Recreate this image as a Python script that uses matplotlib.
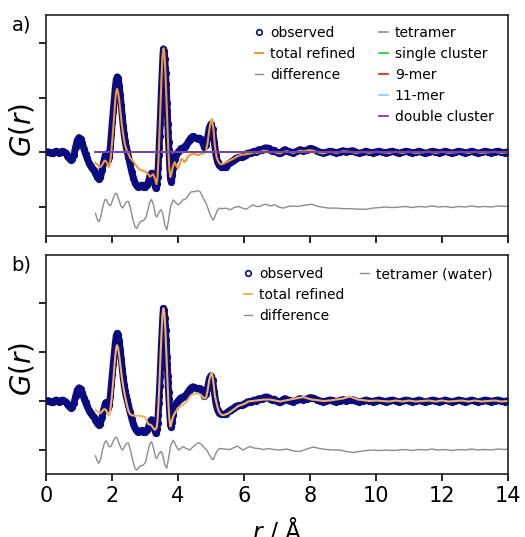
import numpy as np
import matplotlib
matplotlib.use("Agg")
import matplotlib.pyplot as plt
from matplotlib.lines import Line2D

# observed G(r), (r, G); same data in both panels
observed = [
    (0.00, 0.00), (0.05, 0.01), (0.10, 0.00), (0.15, -0.01), (0.20, -0.02),
    (0.25, 0.00), (0.30, 0.02), (0.35, 0.01), (0.40, -0.01), (0.45, 0.00),
    (0.50, 0.02), (0.55, 0.01), (0.60, -0.02), (0.65, -0.06), (0.70, -0.11),
    (0.75, -0.14), (0.80, -0.12), (0.85, -0.04), (0.90, 0.10), (0.95, 0.22),
    (1.00, 0.27), (1.05, 0.25), (1.10, 0.17), (1.15, 0.06), (1.20, -0.03),
    (1.25, -0.11), (1.30, -0.19), (1.35, -0.25), (1.40, -0.29), (1.45, -0.33),
    (1.50, -0.38), (1.55, -0.45), (1.60, -0.49), (1.65, -0.46), (1.70, -0.33),
    (1.75, -0.17), (1.80, -0.05), (1.83, -0.03), (1.86, -0.09), (1.89, -0.14),
    (1.92, -0.08), (1.95, 0.10), (1.98, 0.33), (2.01, 0.55), (2.04, 0.76),
    (2.07, 0.98), (2.10, 1.18), (2.13, 1.33), (2.16, 1.38), (2.19, 1.35),
    (2.22, 1.22), (2.25, 1.05), (2.28, 0.86), (2.31, 0.66), (2.34, 0.48),
    (2.37, 0.33), (2.40, 0.20), (2.43, 0.10), (2.46, 0.02), (2.50, -0.08),
    (2.55, -0.22), (2.60, -0.36), (2.65, -0.47), (2.70, -0.56), (2.75, -0.61),
    (2.80, -0.63), (2.85, -0.62), (2.90, -0.60), (2.95, -0.63), (3.00, -0.64),
    (3.05, -0.60), (3.10, -0.55), (3.15, -0.43), (3.20, -0.38), (3.25, -0.45),
    (3.30, -0.60), (3.33, -0.66), (3.36, -0.58), (3.38, -0.45), (3.40, -0.28),
    (3.42, -0.05), (3.43, 0.10), (3.445, 0.30), (3.46, 0.52), (3.47, 0.70),
    (3.48, 0.85), (3.495, 1.10), (3.51, 1.32), (3.52, 1.45), (3.535, 1.65),
    (3.545, 1.78), (3.56, 1.89), (3.575, 1.86), (3.59, 1.78), (3.60, 1.70),
    (3.615, 1.55), (3.625, 1.45), (3.64, 1.25), (3.65, 1.12), (3.665, 0.90),
    (3.675, 0.75), (3.69, 0.52), (3.70, 0.38), (3.715, 0.18), (3.725, 0.05),
    (3.74, -0.13), (3.75, -0.25), (3.765, -0.42), (3.775, -0.50),
    (3.80, -0.54), (3.825, -0.42), (3.85, -0.28), (3.90, -0.12), (3.95, -0.05),
    (4.00, 0.00), (4.05, 0.04), (4.10, 0.07), (4.15, 0.08), (4.20, 0.10),
    (4.25, 0.13), (4.30, 0.18), (4.35, 0.23), (4.40, 0.27), (4.45, 0.29),
    (4.50, 0.28), (4.55, 0.26), (4.60, 0.25), (4.65, 0.26), (4.70, 0.24),
    (4.75, 0.17), (4.80, 0.10), (4.85, 0.14), (4.90, 0.28), (4.95, 0.45),
    (5.00, 0.52), (5.05, 0.42), (5.10, 0.18), (5.15, -0.05), (5.20, -0.18),
    (5.25, -0.24), (5.30, -0.26), (5.35, -0.27), (5.40, -0.27), (5.45, -0.26),
    (5.50, -0.23), (5.55, -0.20), (5.60, -0.18), (5.65, -0.16), (5.70, -0.14),
    (5.75, -0.11), (5.80, -0.10), (5.85, -0.09), (5.90, -0.09), (5.95, -0.08),
    (6.00, -0.07), (6.05, -0.04), (6.10, -0.02), (6.15, -0.01), (6.20, -0.02),
    (6.25, 0.00), (6.30, 0.02), (6.35, 0.01), (6.40, 0.03), (6.45, 0.05),
    (6.50, 0.04), (6.55, 0.05), (6.60, 0.07), (6.65, 0.08), (6.70, 0.08),
    (6.75, 0.07), (6.80, 0.04), (6.85, 0.03), (6.90, 0.04), (6.95, 0.02),
    (7.00, 0.00), (7.05, -0.02), (7.10, -0.02), (7.15, 0.01), (7.20, 0.04),
    (7.25, 0.05), (7.30, 0.03), (7.40, 0.01), (7.50, -0.01), (7.60, 0.02),
    (7.70, 0.05), (7.80, 0.03), (7.90, 0.04), (8.00, 0.07), (8.10, 0.06),
    (8.20, 0.03), (8.30, 0.00), (8.40, -0.01), (8.50, 0.00), (8.60, 0.02),
    (8.70, 0.01), (8.80, -0.01), (8.90, 0.01), (9.00, 0.03), (9.10, 0.01),
    (9.20, 0.02), (9.30, 0.03), (9.40, 0.00), (9.50, -0.02), (9.60, 0.00),
    (9.70, 0.02), (9.80, 0.00), (9.90, -0.01), (10.0, 0.01), (10.1, 0.02),
    (10.2, 0.00), (10.3, -0.01), (10.4, 0.01), (10.5, 0.02), (10.6, 0.00),
    (10.7, -0.02), (10.8, 0.00), (10.9, 0.02), (11.0, 0.01), (11.1, -0.01),
    (11.2, 0.00), (11.3, 0.02), (11.4, 0.00), (11.5, -0.02), (11.6, 0.00),
    (11.7, 0.02), (11.8, 0.01), (11.9, -0.01), (12.0, 0.00), (12.1, 0.02),
    (12.2, 0.00), (12.3, -0.02), (12.4, 0.00), (12.5, 0.02), (12.6, 0.01),
    (12.7, -0.01), (12.8, 0.00), (12.9, 0.02), (13.0, 0.00), (13.1, -0.02),
    (13.2, 0.00), (13.3, 0.02), (13.4, 0.01), (13.5, -0.01), (13.6, 0.01),
    (13.7, 0.02), (13.8, 0.00), (13.9, -0.01), (14.0, 0.01),
]

tail_fit = [
    (8.6, 0.01), (8.8, -0.01), (9.0, 0.02), (9.2, 0.01), (9.4, -0.01),
    (9.6, 0.01), (9.8, -0.01), (10.0, 0.01), (10.2, 0.00), (10.4, -0.01),
    (10.6, 0.01), (10.8, -0.01), (11.0, 0.01), (11.2, -0.01), (11.4, 0.00),
    (11.6, 0.01), (11.8, -0.01), (12.0, 0.01), (12.2, -0.01), (12.4, 0.00),
    (12.6, 0.01), (12.8, -0.01), (13.0, 0.01), (13.2, -0.01), (13.4, 0.00),
    (13.6, 0.01), (13.8, -0.01), (14.0, 0.00),
]

# total refined, panel a
fit_a = [
    (1.50, -0.19), (1.55, -0.22), (1.60, -0.26), (1.65, -0.27), (1.70, -0.23),
    (1.75, -0.17), (1.80, -0.15), (1.85, -0.19), (1.90, -0.27), (1.93, -0.25),
    (1.96, -0.10), (2.00, 0.15), (2.04, 0.45), (2.08, 0.80), (2.12, 1.08),
    (2.15, 1.16), (2.18, 1.12), (2.22, 0.95), (2.26, 0.72), (2.30, 0.50),
    (2.34, 0.32), (2.38, 0.18), (2.42, 0.08), (2.46, 0.02), (2.50, -0.03),
    (2.55, -0.10), (2.60, -0.14), (2.65, -0.17), (2.70, -0.22), (2.75, -0.25),
    (2.80, -0.29), (2.85, -0.32), (2.90, -0.33), (2.95, -0.34), (3.00, -0.35),
    (3.05, -0.37), (3.10, -0.40), (3.15, -0.45), (3.20, -0.42), (3.25, -0.40),
    (3.30, -0.48), (3.35, -0.58), (3.38, -0.45), (3.41, -0.10), (3.44, 0.35),
    (3.47, 0.85), (3.50, 1.35), (3.53, 1.75), (3.56, 1.90), (3.59, 1.80),
    (3.62, 1.45), (3.65, 0.95), (3.68, 0.45), (3.71, 0.00), (3.74, -0.32),
    (3.77, -0.45), (3.80, -0.40), (3.85, -0.25), (3.90, -0.18), (3.95, -0.25),
    (4.00, -0.30), (4.05, -0.22), (4.10, -0.12), (4.15, -0.14), (4.20, -0.18),
    (4.25, -0.14), (4.30, -0.08), (4.35, -0.05), (4.40, -0.04), (4.45, -0.03),
    (4.50, -0.03), (4.55, -0.04), (4.60, -0.05), (4.65, -0.04), (4.70, -0.03),
    (4.75, -0.02), (4.80, -0.01), (4.85, 0.02), (4.90, 0.18), (4.95, 0.42),
    (5.00, 0.58), (5.03, 0.61), (5.07, 0.45), (5.12, 0.10), (5.17, -0.09),
    (5.22, -0.17), (5.27, -0.21), (5.32, -0.22), (5.40, -0.20), (5.50, -0.17),
    (5.60, -0.14), (5.70, -0.11), (5.80, -0.07), (5.90, -0.05), (6.00, -0.04),
    (6.10, -0.03), (6.20, -0.02), (6.30, 0.00), (6.40, -0.01), (6.50, 0.01),
    (6.60, 0.03), (6.70, 0.02), (6.80, 0.00), (6.90, 0.01), (7.00, -0.01),
    (7.10, -0.02), (7.20, 0.01), (7.30, 0.02), (7.40, 0.00), (7.50, -0.01),
    (7.60, 0.01), (7.70, 0.03), (7.80, 0.02), (7.90, 0.03), (8.00, 0.04),
    (8.10, 0.03), (8.20, 0.01), (8.30, -0.01), (8.40, -0.02), (8.50, 0.00),
] + tail_fit

# total refined, panel b
fit_b = [
    (1.50, -0.18), (1.55, -0.21), (1.60, -0.24), (1.65, -0.25), (1.70, -0.21),
    (1.75, -0.17), (1.80, -0.17), (1.85, -0.22), (1.90, -0.30), (1.93, -0.28),
    (1.96, -0.12), (2.00, 0.12), (2.04, 0.42), (2.08, 0.78), (2.12, 1.05),
    (2.15, 1.14), (2.18, 1.10), (2.22, 0.92), (2.26, 0.70), (2.30, 0.48),
    (2.34, 0.30), (2.38, 0.15), (2.42, 0.02), (2.46, -0.10), (2.50, -0.20),
    (2.55, -0.27), (2.60, -0.29), (2.70, -0.30), (2.80, -0.30), (2.90, -0.31),
    (3.00, -0.33), (3.05, -0.40), (3.10, -0.47), (3.15, -0.48), (3.20, -0.50),
    (3.25, -0.55), (3.30, -0.59), (3.35, -0.55), (3.38, -0.40), (3.41, -0.05),
    (3.44, 0.40), (3.47, 0.90), (3.50, 1.38), (3.53, 1.76), (3.56, 1.89),
    (3.59, 1.78), (3.62, 1.42), (3.65, 0.92), (3.68, 0.40), (3.71, -0.05),
    (3.74, -0.38), (3.77, -0.52), (3.80, -0.45), (3.85, -0.32), (3.90, -0.25),
    (3.95, -0.20), (4.00, -0.14), (4.05, -0.12), (4.10, -0.10), (4.15, -0.08),
    (4.20, -0.05), (4.25, -0.02), (4.30, 0.03), (4.35, 0.08), (4.40, 0.12),
    (4.45, 0.14), (4.50, 0.15), (4.55, 0.15), (4.60, 0.16), (4.65, 0.14),
    (4.70, 0.12), (4.75, 0.08), (4.80, 0.05), (4.85, 0.07), (4.90, 0.22),
    (4.95, 0.44), (5.00, 0.56), (5.03, 0.57), (5.07, 0.40), (5.12, 0.10),
    (5.17, -0.05), (5.22, -0.18), (5.27, -0.25), (5.32, -0.28), (5.38, -0.29),
    (5.45, -0.27), (5.53, -0.25), (5.63, -0.20), (5.73, -0.15), (5.83, -0.10),
    (5.93, -0.08), (6.03, -0.05), (6.13, -0.01), (6.25, 0.00), (6.35, 0.01),
    (6.48, 0.02), (6.60, 0.03), (6.79, 0.03), (6.95, 0.01), (7.09, -0.01),
    (7.25, 0.01), (7.40, 0.03), (7.55, 0.05), (7.70, 0.07), (7.80, 0.08),
    (7.90, 0.06), (8.05, 0.03), (8.20, 0.02), (8.40, 0.00), (8.60, 0.01),
    (8.80, 0.03), (9.00, 0.05), (9.10, 0.07), (9.20, 0.09), (9.30, 0.07),
    (9.45, 0.03), (9.60, 0.02), (9.80, 0.00),
] + tail_fit[7:]

tail_diff = [
    (10.1, -1.01), (10.3, -1.00), (10.5, -1.01), (10.7, -1.00), (10.9, -0.99),
    (11.1, -1.01), (11.3, -0.99), (11.5, -1.00), (11.7, -0.98), (11.9, -1.00),
    (12.1, -0.99), (12.3, -1.01), (12.5, -0.99), (12.7, -1.00), (12.9, -0.98),
    (13.1, -1.00), (13.3, -0.99), (13.5, -1.00), (13.7, -0.98), (13.9, -0.99),
    (14.0, -0.98),
]

# difference curves (already offset)
diff_a = [
    (1.50, -1.12), (1.55, -1.22), (1.60, -1.27), (1.65, -1.20), (1.72, -1.00),
    (1.78, -0.87), (1.82, -0.86), (1.87, -0.92), (1.92, -0.97), (1.97, -0.96),
    (2.03, -0.85), (2.09, -0.76), (2.14, -0.75), (2.20, -0.85), (2.27, -0.98),
    (2.32, -1.02), (2.38, -0.96), (2.45, -0.90), (2.50, -0.90), (2.56, -1.02),
    (2.63, -1.22), (2.70, -1.36), (2.75, -1.39), (2.80, -1.33), (2.87, -1.26),
    (2.95, -1.25), (3.02, -1.20), (3.08, -1.08), (3.14, -0.92), (3.20, -0.86),
    (3.26, -0.97), (3.32, -1.16), (3.36, -1.18), (3.42, -1.10), (3.48, -1.05),
    (3.53, -1.10), (3.60, -1.32), (3.66, -1.42), (3.71, -1.25), (3.78, -0.98),
    (3.86, -0.87), (3.93, -0.92), (4.01, -0.96), (4.08, -0.92), (4.15, -0.87),
    (4.21, -0.86), (4.28, -0.82), (4.35, -0.75), (4.41, -0.72), (4.50, -0.72),
    (4.58, -0.70), (4.67, -0.72), (4.75, -0.82), (4.82, -0.90), (4.87, -0.96),
    (4.95, -1.10), (5.02, -1.20), (5.07, -1.24), (5.14, -1.14), (5.20, -1.05),
    (5.27, -1.02), (5.35, -1.03), (5.45, -1.02), (5.58, -1.05), (5.70, -1.01),
    (5.83, -0.99), (5.95, -1.02), (6.08, -1.04), (6.18, -0.99), (6.28, -0.96),
    (6.38, -0.99), (6.48, -0.99), (6.58, -0.96), (6.68, -0.95), (6.80, -0.98),
    (6.95, -0.96), (7.05, -1.00), (7.19, -1.02), (7.35, -0.99), (7.50, -0.98),
    (7.65, -0.99), (7.80, -0.97), (8.05, -0.95), (8.25, -0.99), (8.45, -1.01),
    (8.60, -1.02), (8.80, -1.02), (9.00, -1.03), (9.20, -1.03), (9.45, -1.04),
    (9.72, -1.04), (9.90, -1.02),
] + tail_diff

diff_b = [
    (1.50, -1.12), (1.55, -1.22), (1.60, -1.27), (1.65, -1.20), (1.72, -0.98),
    (1.78, -0.84), (1.82, -0.81), (1.87, -0.88), (1.92, -0.93), (1.97, -0.93),
    (2.03, -0.83), (2.09, -0.75), (2.14, -0.74), (2.20, -0.84), (2.27, -0.96),
    (2.32, -1.00), (2.38, -0.93), (2.45, -0.86), (2.50, -0.86), (2.56, -1.00),
    (2.63, -1.22), (2.70, -1.38), (2.75, -1.41), (2.80, -1.37), (2.87, -1.32),
    (2.95, -1.31), (3.02, -1.24), (3.08, -1.05), (3.14, -0.88), (3.20, -0.83),
    (3.26, -0.97), (3.32, -1.15), (3.36, -1.17), (3.42, -1.08), (3.48, -1.03),
    (3.53, -1.08), (3.60, -1.30), (3.66, -1.37), (3.71, -1.18), (3.78, -0.90),
    (3.86, -0.80), (3.93, -0.90), (4.01, -1.00), (4.08, -0.97), (4.16, -0.93),
    (4.25, -0.97), (4.36, -1.00), (4.45, -0.94), (4.55, -0.88), (4.62, -0.85),
    (4.70, -0.88), (4.80, -0.96), (4.87, -1.00), (4.95, -1.10), (5.02, -1.17),
    (5.07, -1.20), (5.14, -1.08), (5.20, -1.00), (5.27, -0.97), (5.40, -0.98),
    (5.58, -0.99), (5.70, -0.95), (5.80, -0.92), (5.90, -0.97), (5.98, -1.00),
    (6.08, -0.96), (6.18, -0.93), (6.30, -0.96), (6.45, -0.97), (6.58, -0.99),
    (6.75, -0.97), (6.90, -0.99), (7.09, -1.00), (7.30, -0.98), (7.50, -1.02),
    (7.70, -1.03), (7.90, -0.98), (8.10, -0.94), (8.30, -0.97), (8.50, -0.99),
    (8.70, -1.00), (8.90, -1.00), (9.10, -1.03), (9.30, -1.05), (9.50, -1.03),
    (9.72, -1.01), (9.90, -1.00),
] + tail_diff

# cluster components of panel a (all flat at zero over the fitted range)
comp_r = [1.5, 14.0]
comp_g = [0.0, 0.0]
comp_names = ["tetramer", "single cluster", "9-mer", "11-mer", "double cluster"]
comp_colors = ["#8c8c8c", "#22cc22", "#ee1111", "#88ccf0", "#7030a0"]

NAVY = "#0b0b80"
ORANGE_A = "#ec9a3a"
ORANGE_B = "#f2b264"
GREY = "#8c8c8c"


def xy(pts):
    a = np.array(pts)
    return a[:, 0], a[:, 1]


def style_axes(ax, ylim):
    ax.set_xlim(0, 14)
    ax.set_ylim(*ylim)
    ax.set_yticks([-1, 0, 1, 2])
    ax.set_yticklabels([])
    ax.set_xticks(range(0, 15, 2))
    ax.tick_params(direction="out", length=5, width=1.2, labelsize=15)
    for s in ax.spines.values():
        s.set_linewidth(1.2)
        s.set_color("#222222")
    ax.set_ylabel("$G(r)$", fontsize=20)
    ax.yaxis.set_label_coords(-0.02, 0.48)


def draw_common(ax, fit, diff, fit_color):
    r, g = xy(observed)
    # dense band of the measured points
    ax.plot(r, g, "-", color=NAVY, lw=5.0, solid_capstyle="round",
            solid_joinstyle="round")
    ax.plot(r, g, "o", ms=4.0, mfc="none", mec=NAVY, mew=1.2,
            label="observed")
    r, g = xy(fit)
    ax.plot(r, g, "-", color=fit_color, lw=1.5, label="total refined")
    r, g = xy(diff)
    ax.plot(r, g, "-", color=GREY, lw=1.0, label="difference")


fig = plt.figure(figsize=(5.25, 5.37), dpi=100)
ax1 = fig.add_axes([0.0876, 0.5605, 0.88, 0.4115])
ax2 = fig.add_axes([0.0876, 0.1173, 0.88, 0.4078])

draw_common(ax1, fit_a, diff_a, ORANGE_A)
for name, c in zip(comp_names, comp_colors):
    ax1.plot(comp_r, comp_g, "-", color=c, lw=1.2, label=name)
style_axes(ax1, (-1.53, 2.51))
ax1.set_xticklabels([])

draw_common(ax2, fit_b, diff_b, ORANGE_B)
ax2.plot([], [], "-", color=GREY, lw=1.0, label="tetramer (water)")
style_axes(ax2, (-1.49, 2.98))
ax2.set_xlabel("$r$ / Å", fontsize=17, labelpad=7)

blank = Line2D([], [], linestyle="none")


def add_legend(ax, n_left, anchor, colspace):
    h, l = ax.get_legend_handles_labels()
    left_h, left_l = h[:n_left], l[:n_left]
    right_h, right_l = h[n_left:], l[n_left:]
    rows = max(len(left_h), len(right_h))
    left_h += [blank] * (rows - len(left_h))
    left_l += [""] * (rows - len(left_l))
    right_h += [blank] * (rows - len(right_h))
    right_l += [""] * (rows - len(right_l))
    ax.legend(left_h + right_h, left_l + right_l, ncol=2, frameon=False,
              loc="upper left", bbox_to_anchor=anchor, fontsize=10,
              handlelength=0.6, handletextpad=0.5, labelspacing=0.5,
              columnspacing=colspace, numpoints=1, borderaxespad=0)


add_legend(ax1, 3, (0.44, 0.975), 1.72)
add_legend(ax2, 3, (0.416, 0.97), 1.15)

fig.text(0.022, 0.972, "a)", fontsize=14, va="top")
fig.text(0.022, 0.524, "b)", fontsize=14, va="top")

fig.savefig("out.png", dpi=100)
